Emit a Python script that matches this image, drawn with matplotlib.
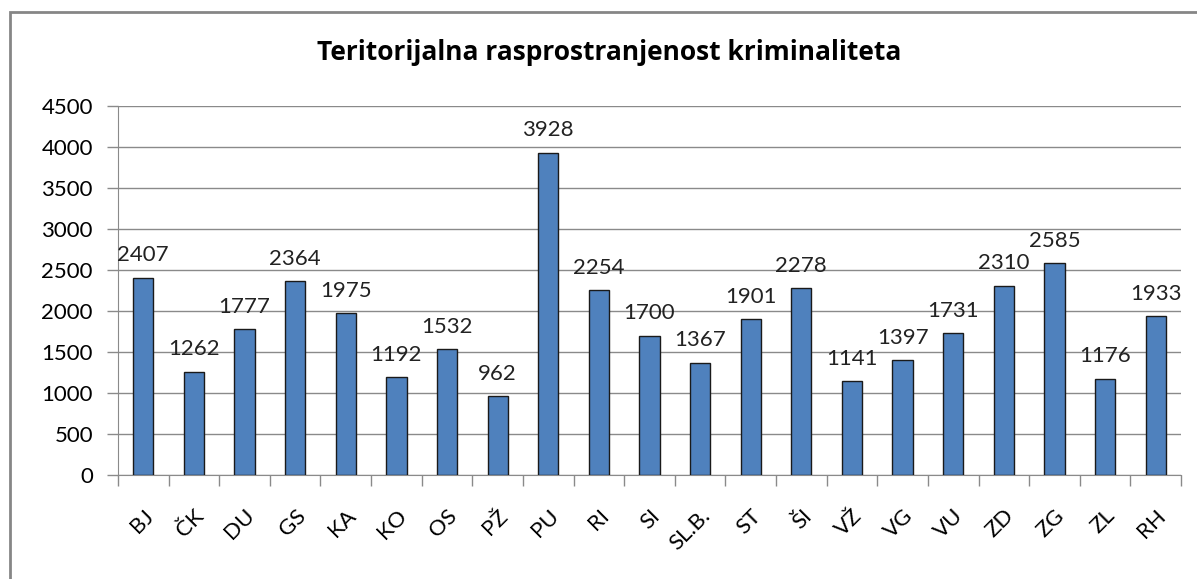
import matplotlib

matplotlib.use("Agg")
import matplotlib.pyplot as plt
from matplotlib.patches import Rectangle
from matplotlib.ticker import FixedLocator, MultipleLocator

regions = ["BJ", "ČK", "DU", "GS", "KA", "KO", "OS", "PŽ", "PU", "RI", "SI",
           "SL.B.", "ST", "ŠI", "VŽ", "VG", "VU", "ZD", "ZG", "ZL", "RH"]
offences = [2407, 1262, 1777, 2364, 1975, 1192, 1532, 962, 3928, 2254, 1700,
            1367, 1901, 2278, 1141, 1397, 1731, 2310, 2585, 1176, 1933]
title = "Teritorijalna rasprostranjenost kriminaliteta"

plt.rcParams["font.family"] = ["Lato", "DejaVu Sans"]

fig = plt.figure(figsize=(11.97, 5.79), dpi=100)
# chart frame (document crop cuts it on the right and bottom)
fig.patches.append(Rectangle((10 / 1197, -0.1), 1.2, 1 - 12 / 579 + 0.1,
                             transform=fig.transFigure, fill=False,
                             edgecolor="#868686", linewidth=2))

ax = fig.add_axes([118 / 1197, 104 / 579, (1181 - 118) / 1197, (475 - 106) / 579])
x = range(len(regions))
ax.bar(x, offences, width=0.4, color="#4F81BD", edgecolor="#1a1a1a", linewidth=1, zorder=3)
for xi, v in zip(x, offences):
    ax.annotate(str(v), (xi, v), xytext=(0, 9), textcoords="offset points",
                ha="center", va="bottom", fontsize=16, color="#222222")

ax.set_xlim(-0.5, len(regions) - 0.5)
ax.set_ylim(0, 4500)
ax.yaxis.set_major_locator(MultipleLocator(500))
ax.grid(axis="y", color="#8a8a8a", linewidth=1, zorder=0)

ax.set_xticks(list(x))
ax.set_xticklabels(regions, rotation=45, ha="right", va="top", rotation_mode="anchor", fontsize=16)
ax.xaxis.set_minor_locator(FixedLocator([i - 0.5 for i in range(len(regions) + 1)]))
ax.tick_params(axis="x", which="major", length=0, pad=22)
ax.tick_params(axis="x", which="minor", length=8, color="#8a8a8a", width=1)
ax.tick_params(axis="y", length=8, color="#8a8a8a", width=1, pad=10, labelsize=16)

for s in ("top", "right"):
    ax.spines[s].set_visible(False)
for s in ("left", "bottom"):
    ax.spines[s].set_color("#8a8a8a")

fig.text(609 / 1197, 1 - 52 / 579, title, ha="center", va="center", fontsize=19,
         fontweight="bold", family=["Open Sans", "DejaVu Sans"])

fig.savefig("out.png", dpi=100)
